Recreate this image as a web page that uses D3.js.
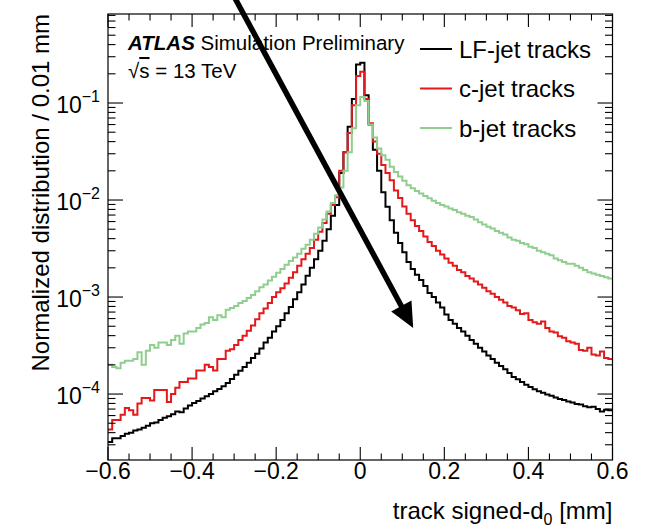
<!DOCTYPE html>
<html><head><meta charset="utf-8">
<script src="https://cdn.jsdelivr.net/npm/d3@7"></script>
<style>
body{margin:0;background:#fff}
svg{display:block}
text{font-family:"Liberation Sans",Arial,Helvetica,sans-serif;fill:#000}
</style>
</head><body><svg id="chart" width="648" height="529"></svg>
<script>
// ---------- data ----------
const binEdges = d3.range(-60, 61).map(k => k / 100);   // track signed-d0 [mm], 0.01 mm bins

const lfValues = [
  3.2e-5,3.5e-5,3.5e-5,3.7e-5,3.9e-5,4.0e-5,4.2e-5,4.3e-5,4.5e-5,4.7e-5,
  5.0e-5,5.1e-5,5.4e-5,5.7e-5,5.9e-5,6.2e-5,6.6e-5,6.5e-5,7.1e-5,7.6e-5,
  8.1e-5,8.5e-5,9.0e-5,9.5e-5,1.0e-4,1.07e-4,1.13e-4,1.2e-4,1.3e-4,1.43e-4,
  1.58e-4,1.74e-4,1.9e-4,2.1e-4,2.35e-4,2.6e-4,2.95e-4,3.4e-4,3.8e-4,4.4e-4,
  5.0e-4,5.8e-4,6.8e-4,7.9e-4,9.5e-4,1.12e-3,1.35e-3,1.66e-3,2.0e-3,2.45e-3,
  3.0e-3,3.8e-3,5.0e-3,6.9e-3,8.9e-3,0.019,0.031,0.057,0.11,0.25,
  0.26,0.12,0.06,0.033,0.02,0.012,8.5e-3,6.2e-3,4.6e-3,3.6e-3,
  2.9e-3,2.3e-3,1.95e-3,1.7e-3,1.5e-3,1.3e-3,1.1e-3,1.0e-3,8.8e-4,7.8e-4,
  6.6e-4,5.8e-4,5.3e-4,4.8e-4,4.4e-4,4.0e-4,3.6e-4,3.3e-4,3.0e-4,2.75e-4,
  2.5e-4,2.3e-4,2.1e-4,1.95e-4,1.8e-4,1.65e-4,1.5e-4,1.42e-4,1.33e-4,1.25e-4,
  1.18e-4,1.12e-4,1.07e-4,1.03e-4,9.9e-5,9.6e-5,9.2e-5,8.9e-5,8.7e-5,8.4e-5,
  8.2e-5,7.9e-5,7.8e-5,7.5e-5,7.3e-5,7.4e-5,7.0e-5,6.6e-5,6.9e-5,6.8e-5
];

const cValues = [
  4.3e-5,5.4e-5,5.4e-5,6.1e-5,7.2e-5,6.8e-5,6.1e-5,8.0e-5,9.1e-5,9.1e-5,
  8.6e-5,1.1e-4,1.1e-4,1.1e-4,8.3e-5,1.0e-4,1.16e-4,1.33e-4,1.33e-4,1.45e-4,
  1.45e-4,1.75e-4,1.75e-4,2.0e-4,1.9e-4,1.75e-4,2.3e-4,2.3e-4,2.8e-4,2.9e-4,
  3.2e-4,3.6e-4,4.0e-4,4.5e-4,5.1e-4,5.9e-4,6.8e-4,7.6e-4,8.7e-4,1.0e-3,
  1.12e-3,1.23e-3,1.38e-3,1.58e-3,1.8e-3,2.1e-3,2.45e-3,2.8e-3,3.2e-3,3.9e-3,
  4.7e-3,5.8e-3,7.2e-3,8.9e-3,0.0107,0.02,0.031,0.049,0.095,0.19,
  0.21,0.11,0.062,0.04,0.03,0.023,0.019,0.016,0.0125,0.0105,
  8.6e-3,7.2e-3,6.2e-3,5.4e-3,4.8e-3,4.2e-3,3.7e-3,3.35e-3,3.0e-3,2.75e-3,
  2.5e-3,2.25e-3,2.1e-3,1.9e-3,1.8e-3,1.65e-3,1.55e-3,1.45e-3,1.35e-3,1.25e-3,
  1.15e-3,1.08e-3,1.0e-3,9.4e-4,8.8e-4,8.1e-4,7.8e-4,7.3e-4,6.7e-4,6.8e-4,
  5.8e-4,5.5e-4,5.3e-4,5.6e-4,4.8e-4,4.4e-4,4.3e-4,3.95e-4,3.8e-4,3.5e-4,
  3.4e-4,3.3e-4,2.85e-4,2.8e-4,3.0e-4,2.55e-4,2.5e-4,2.75e-4,2.35e-4,2.3e-4
];

const bValues = [
  2.0e-4,1.9e-4,1.85e-4,2.1e-4,2.2e-4,2.2e-4,2.3e-4,2.7e-4,2.0e-4,2.8e-4,
  3.2e-4,3.0e-4,3.4e-4,3.4e-4,3.2e-4,3.6e-4,4.0e-4,3.3e-4,4.2e-4,4.4e-4,
  4.4e-4,4.8e-4,5.2e-4,5.4e-4,6.2e-4,5.8e-4,6.5e-4,6.2e-4,7.4e-4,7.7e-4,
  8.1e-4,8.7e-4,9.1e-4,9.8e-4,1.05e-3,1.15e-3,1.26e-3,1.35e-3,1.48e-3,1.62e-3,
  1.78e-3,1.95e-3,2.15e-3,2.35e-3,2.55e-3,2.8e-3,3.15e-3,3.45e-3,3.9e-3,4.5e-3,
  5.2e-3,6.3e-3,7.6e-3,9.3e-3,0.0112,0.0135,0.02,0.031,0.055,0.095,
  0.115,0.105,0.06,0.044,0.034,0.029,0.026,0.022,0.0195,0.0175,
  0.0158,0.0142,0.0132,0.0124,0.0117,0.011,0.0104,0.0098,0.0093,0.0089,
  0.0086,0.0082,0.0079,0.0075,0.0072,0.0069,0.0067,0.0063,0.0059,0.0056,
  0.0053,0.0051,0.0048,0.0046,0.0044,0.0041,0.0039,0.0038,0.0036,0.0035,
  0.0033,0.0032,0.0030,0.0029,0.0028,0.0027,0.0025,0.0024,0.0023,0.0022,
  0.0022,0.0021,0.0020,0.0019,0.0018,0.00175,0.0017,0.00165,0.0016,0.00155
];

const seriesNames  = ["LF-jet tracks", "c-jet tracks", "b-jet tracks"];
const seriesColors = ["#000000", "#e3191b", "#8fce8f"];
const xTickValues  = [-0.6, -0.4, -0.2, 0, 0.2, 0.4, 0.6];
const xTickLabels  = ["\u22120.6", "\u22120.4", "\u22120.2", "0", "0.2", "0.4", "0.6"];
const yTickExponents = [-4, -3, -2, -1];
const yTickLabels  = ["\u22124", "\u22123", "\u22122", "\u22121"];
const xDomain = [-0.6, 0.6];
const yDomain = [2.09e-5, 0.827];
// annotation arrow (data coordinates): tail above the frame, head in the right tail
const arrowTail = {x: -0.30, y: 1.25};
const arrowHead = {x: 0.126, y: 4.8e-4};

// ---------- layout ----------
const svg = d3.select("#chart");
const L = 108, R = 612.5, T = 14, B = 460;
const x = d3.scaleLinear().domain(xDomain).range([L, R]);
const y = d3.scaleLog().domain(yDomain).range([B, T]);

// histograms
const seriesValues = [lfValues, cValues, bValues];
const line = d3.line().x(d => x(d[0])).y(d => y(d[1])).curve(d3.curveStepAfter);
seriesValues.forEach((vals, i) => {
  const pts = vals.map((v, j) => [binEdges[j], v]);
  pts.push([binEdges[binEdges.length - 1], vals[vals.length - 1]]);
  svg.append("path").attr("d", line(pts))
    .attr("fill", "none").attr("stroke", seriesColors[i])
    .attr("stroke-width", 2).attr("stroke-linejoin", "miter");
});

// frame
svg.append("rect").attr("x", L).attr("y", T).attr("width", R - L).attr("height", B - T)
  .attr("fill", "none").attr("stroke", "#000").attr("stroke-width", 1.2);

// ticks (inward on all four sides)
const gT = svg.append("g").attr("stroke", "#000").attr("stroke-width", 1.1);
const xMinorTicks = d3.range(-12, 13).map(k => k * 0.05).filter(v => !xTickValues.some(t => Math.abs(t - v) < 1e-6));
xTickValues.forEach(v => {
  gT.append("line").attr("x1", x(v)).attr("x2", x(v)).attr("y1", B).attr("y2", B - 13);
  gT.append("line").attr("x1", x(v)).attr("x2", x(v)).attr("y1", T).attr("y2", T + 13);
});
xMinorTicks.forEach(v => {
  gT.append("line").attr("x1", x(v)).attr("x2", x(v)).attr("y1", B).attr("y2", B - 6.5);
  gT.append("line").attr("x1", x(v)).attr("x2", x(v)).attr("y1", T).attr("y2", T + 6.5);
});
const yMajorVals = yTickExponents.map(e => Math.pow(10, e));
const yMinorVals = [];
[-5, -4, -3, -2, -1].forEach(e => d3.range(2, 10).forEach(m => {
  const v = m * Math.pow(10, e);
  if (v >= yDomain[0] && v <= yDomain[1]) yMinorVals.push(v);
}));
yMajorVals.forEach(v => {
  gT.append("line").attr("x1", L).attr("x2", L + 15).attr("y1", y(v)).attr("y2", y(v));
  gT.append("line").attr("x1", R).attr("x2", R - 15).attr("y1", y(v)).attr("y2", y(v));
});
yMinorVals.forEach(v => {
  gT.append("line").attr("x1", L).attr("x2", L + 7.5).attr("y1", y(v)).attr("y2", y(v));
  gT.append("line").attr("x1", R).attr("x2", R - 7.5).attr("y1", y(v)).attr("y2", y(v));
});

// x tick labels
xTickValues.forEach((v, i) => {
  svg.append("text").attr("x", x(v)).attr("y", B + 19).attr("text-anchor", "middle")
    .attr("font-size", 23).text(xTickLabels[i]);
});
// y tick labels 10^n
yTickExponents.forEach((e, i) => {
  const t = svg.append("text").attr("x", 100).attr("y", y(Math.pow(10, e)) + 10)
    .attr("text-anchor", "end").attr("font-size", 23);
  t.append("tspan").text("10");
  t.append("tspan").attr("font-size", 16).attr("dy", -11).text(yTickLabels[i]);
});

// axis titles
const xt = svg.append("text").attr("x", R).attr("y", 519).attr("text-anchor", "end").attr("font-size", 24);
xt.append("tspan").text("track signed-d");
xt.append("tspan").attr("font-size", 16).attr("dy", 6).text("0");
xt.append("tspan").attr("dy", -6).text(" [mm]");
svg.append("text").attr("transform", "translate(49," + T + ") rotate(-90)")
  .attr("text-anchor", "end").attr("font-size", 24).text("Normalized distribution / 0.01 mm");

// ATLAS label
const at = svg.append("text").attr("x", 128).attr("y", 50).attr("font-size", 20.5);
at.append("tspan").attr("font-weight", "bold").attr("font-style", "italic").text("ATLAS");
at.append("tspan").text(" Simulation Preliminary");
const rs = svg.append("text").attr("x", 128).attr("y", 78).attr("font-size", 20.5);
rs.append("tspan").text("\u221A");
rs.append("tspan").attr("text-decoration", "overline").text("s");
rs.append("tspan").text(" = 13 TeV");

// legend
seriesNames.forEach((n, i) => {
  const ly = 49 + i * 39.5;
  svg.append("line").attr("x1", 420).attr("x2", 452).attr("y1", ly).attr("y2", ly)
    .attr("stroke", seriesColors[i]).attr("stroke-width", 2);
  svg.append("text").attr("x", 459).attr("y", ly + 8.5).attr("font-size", 24).text(n);
});

// arrow annotation
const ax0 = x(arrowTail.x), ay0 = y(arrowTail.y), ax1 = x(arrowHead.x), ay1 = y(arrowHead.y);
const len = Math.hypot(ax1 - ax0, ay1 - ay0), ux = (ax1 - ax0) / len, uy = (ay1 - ay0) / len;
const headLen = 25, headHalf = 11.5;
const bx = ax1 - ux * headLen, by = ay1 - uy * headLen;
svg.append("line").attr("x1", ax0).attr("y1", ay0).attr("x2", bx + ux * 2).attr("y2", by + uy * 2)
  .attr("stroke", "#000").attr("stroke-width", 5.5);
svg.append("polygon").attr("fill", "#000").attr("points", [
  [ax1, ay1], [bx - uy * headHalf, by + ux * headHalf], [bx + uy * headHalf, by - ux * headHalf]
].map(p => p.join(",")).join(" "));
</script>
</body></html>
